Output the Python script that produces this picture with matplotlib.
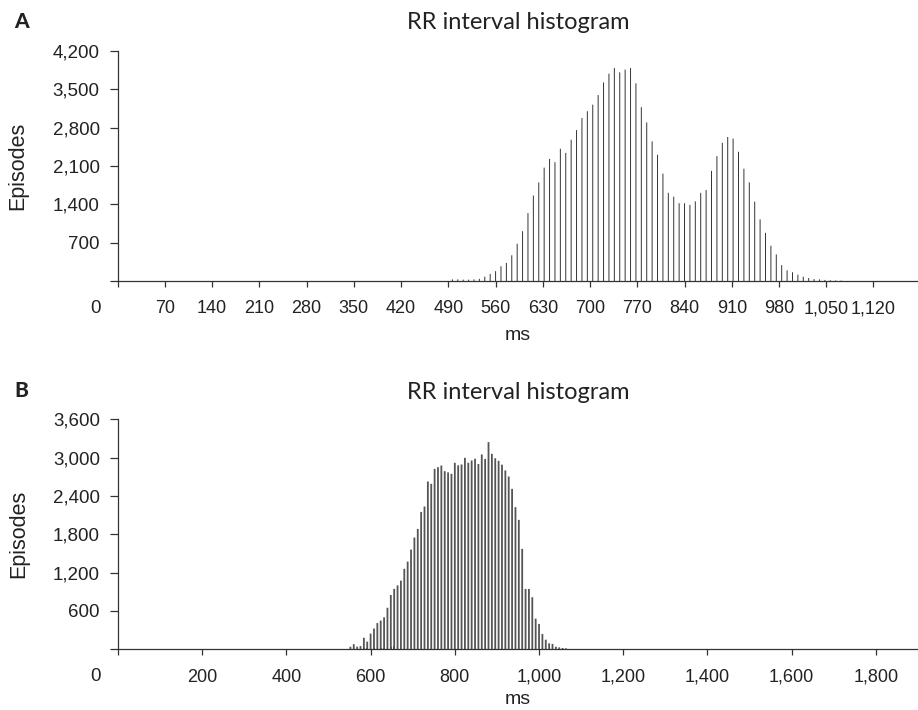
"""RR interval histograms (panels A and B) redrawn with matplotlib."""

import matplotlib

matplotlib.use("Agg")
import matplotlib.pyplot as plt
import numpy as np
from matplotlib.ticker import FuncFormatter

# --- data -------------------------------------------------------------------
a_bin_start = 496  # ms
a_bin_step = 8     # ms
a_counts = [
    30, 30, 25, 25, 30, 40, 80, 130, 180, 270,
    330, 470, 680, 910, 1240, 1560, 1800, 2070, 2230, 2170,
    2415, 2340, 2580, 2755, 2975, 3100, 3220, 3395, 3625, 3785,
    3890, 3810, 3860, 3890, 3610, 3175, 2895, 2550, 2305, 1960,
    1610, 1540, 1420, 1420, 1390, 1455, 1610, 1660, 2010, 2280,
    2525, 2630, 2600, 2360, 2050, 1800, 1450, 1125, 880, 645,
    485, 290, 195, 160, 115, 80, 55, 35, 30, 20,
    15, 10, 8,
]
a_xticks = list(range(0, 1121, 70))
a_yticks = [0, 700, 1400, 2100, 2800, 3500, 4200]

b_bin_start = 552
b_bin_step = 8
b_counts = [
    40, 80, 40, 50, 180, 120, 245, 325, 410, 450,
    500, 650, 850, 945, 1000, 1075, 1260, 1373, 1560, 1750,
    1885, 2150, 2235, 2627, 2590, 2825, 2850, 2877, 2789, 2770,
    2747, 2919, 2880, 2893, 2997, 2920, 2956, 2982, 2900, 3050,
    2980, 3243, 3060, 2990, 2950, 2890, 2800, 2705, 2512, 2225,
    2026, 1572, 945, 945, 815, 480, 397, 240, 150, 94,
    84, 40, 30, 20, 15,
]
b_marked_start = 584
b_marked = [15, 15, 15, 15, 15, 15, 15, 15, 35, 55]
b_xticks = list(range(0, 1801, 200))
b_yticks = [0, 600, 1200, 1800, 2400, 3000, 3600]

TITLE = "RR interval histogram"
SANS = ["Liberation Sans", "DejaVu Sans"]
TEXT_C = "#222222"


def _comma(v, _pos):
    if v == 0:
        return ""
    return f"{v:,.0f}"


def draw_panel(fig, rect, centers, counts, xmax, xticks, yticks, letter,
               title_pad, xlabel_y, lw, color):
    ax = fig.add_axes(rect)
    ax.vlines(centers, 0, counts, colors=color, linewidth=lw, snap=False)

    ax.set_xlim(0, xmax)
    ax.set_ylim(0, yticks[-1])
    ax.set_xticks(xticks)
    ax.set_yticks(yticks)
    ax.xaxis.set_major_formatter(FuncFormatter(_comma))
    ax.yaxis.set_major_formatter(FuncFormatter(_comma))

    for side in ("top", "right"):
        ax.spines[side].set_visible(False)
    for side in ("left", "bottom"):
        ax.spines[side].set_linewidth(0.9)
        ax.spines[side].set_color("#333333")
    ax.tick_params(axis="x", direction="out", length=4.5, width=0.9,
                   color="#333333", pad=9.5, labelsize=13, labelcolor=TEXT_C)
    ax.tick_params(axis="y", direction="out", length=6, width=0.9,
                   color="#333333", pad=7, labelsize=13.5, labelcolor=TEXT_C)
    for lab in ax.get_xticklabels() + ax.get_yticklabels():
        lab.set_family(SANS)

    # origin label sits at the corner, left of the axis
    ax.annotate("0", xy=(0, 0), xycoords="axes fraction", xytext=(-22, -19),
                textcoords="offset pixels", ha="center", va="top",
                fontsize=13.5, family=SANS, color=TEXT_C)

    ax.set_ylabel("Episodes", fontsize=15.5, family=SANS, color=TEXT_C)
    ax.yaxis.set_label_coords(-0.1115, 0.5)
    ax.set_xlabel("ms", fontsize=14, family=SANS, color=TEXT_C)
    ax.xaxis.set_label_coords(0.5, xlabel_y)

    ax.set_title(TITLE, fontsize=17, family=["Lato", "DejaVu Sans"],
                 color=TEXT_C, pad=title_pad)
    bbox = ax.get_position()
    fig.text(21 / 918, bbox.y1 + (51 - 22) / 710, letter, ha="center",
             va="center", fontsize=15, fontweight="black",
             family=["Lato", "DejaVu Sans"], color=TEXT_C)
    return ax


def main():
    fig = plt.figure(figsize=(9.18, 7.10), dpi=100)

    a_centers = a_bin_start + a_bin_step * np.arange(len(a_counts))
    draw_panel(fig, [0.1282, 0.6042, 0.8718, 0.3240], a_centers, a_counts,
               1186, a_xticks, a_yticks, "A", 15.6, -0.2, 0.7, "#333333")

    b_centers = b_bin_start + b_bin_step * np.arange(len(b_counts))
    ax_b = draw_panel(fig, [0.1285, 0.0855, 0.8715, 0.3239], b_centers,
                      b_counts, 1900, b_xticks, b_yticks, "B", 14.4, -0.183,
                      1.3, "#555555")
    m_centers = b_marked_start + b_bin_step * np.arange(len(b_marked))
    ax_b.bar(m_centers, b_marked, width=4, color="#c2188f", linewidth=0)

    fig.savefig("out.png", dpi=100)
    plt.close(fig)


if __name__ == "__main__":
    main()
